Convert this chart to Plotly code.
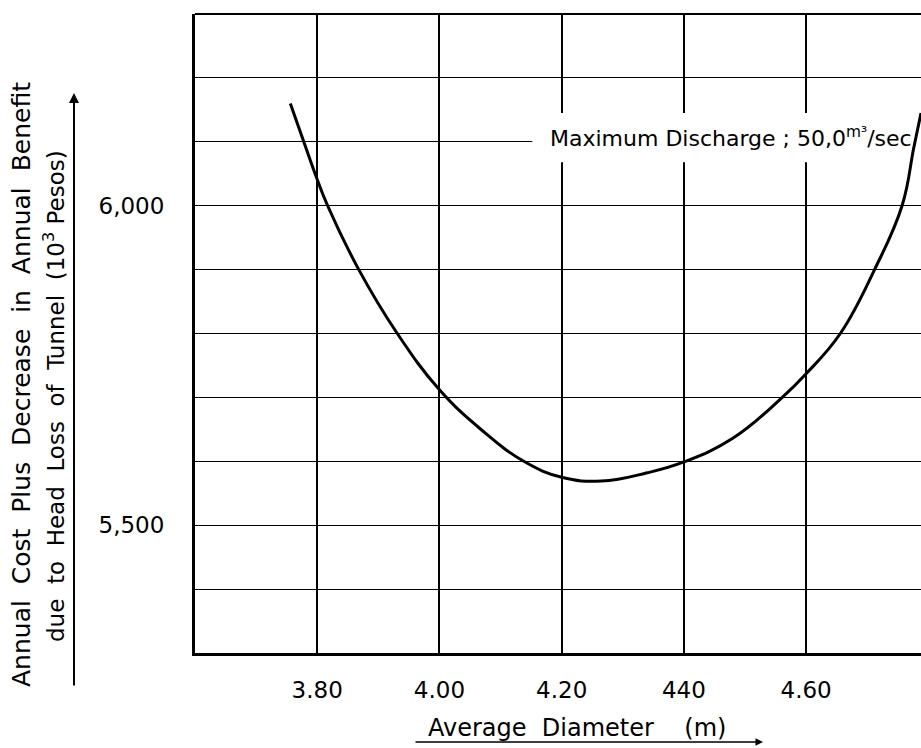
import plotly.graph_objects as go

# ---- data ----
diameter = [3.756, 3.778, 3.800, 3.817, 3.868, 3.931, 4.000, 4.069, 4.138,
            4.200, 4.265, 4.340, 4.400, 4.480, 4.561, 4.600, 4.656, 4.712,
            4.757, 4.776, 4.788]
cost = [6160, 6100, 6041, 6000, 5900, 5800, 5712, 5649, 5600,
        5575, 5569, 5582, 5599, 5636, 5700, 5737, 5800, 5900,
        6000, 6090, 6145]

x_ticks = [3.8, 4.0, 4.2, 4.4, 4.6]
x_tick_labels = ["3.80", "4.00", "4.20", "440", "4.60"]
y_ticks = [5400, 5500, 5600, 5700, 5800, 5900, 6000, 6100, 6200]
y_tick_labels = ["", "5,500", "", "", "", "", "6,000", "", ""]

FONT = "DejaVu Sans"
W, H = 921, 748
L, R, T, B = 195, 0, 14, 95
PW, PH = W - L - R, H - T - B

def px_x(p):
    return (p - L) / PW

def px_y(p):
    return (H - B - p) / PH

fig = go.Figure()
fig.add_trace(go.Scatter(
    x=diameter, y=cost, mode="lines",
    line=dict(color="black", width=3, shape="spline", smoothing=1.2),
    hoverinfo="skip", showlegend=False))

fig.update_layout(
    width=W, height=H,
    margin=dict(l=L, r=R, t=T, b=B),
    paper_bgcolor="white", plot_bgcolor="white",
    font=dict(family=FONT, size=22, color="black"),
    showlegend=False,
    xaxis=dict(range=[3.6, 4.788], tickvals=x_ticks, ticktext=x_tick_labels,
               showgrid=True, gridcolor="black", gridwidth=2,
               showline=True, linecolor="black", linewidth=3,
               ticks="", ticklabelstandoff=14, zeroline=False,
               tickfont=dict(family=FONT, size=23)),
    yaxis=dict(range=[5300, 6300], tickvals=y_ticks, ticktext=y_tick_labels,
               showgrid=True, gridcolor="black", gridwidth=1,
               showline=True, linecolor="black", linewidth=3,
               ticks="", ticklabelstandoff=23, zeroline=False,
               tickfont=dict(family=FONT, size=23)),
)

# top border
fig.add_shape(type="line", xref="paper", yref="paper", x0=0, x1=1, y0=1, y1=1,
              line=dict(color="black", width=2))
# white box behind the discharge label (covers gridlines, not the curve)
fig.add_shape(type="rect", xref="x", yref="y", x0=4.152, x1=4.788, y0=6068, y1=6145,
              fillcolor="white", line=dict(width=0), layer="between")
fig.add_annotation(x=4.178, y=6107, xref="x", yref="y", xanchor="left", yanchor="middle",
                   text="Maximum Discharge ; 50,0<sup>m³</sup>/sec",
                   showarrow=False, font=dict(family=FONT, size=22))

# y-axis title (two rotated lines)
fig.add_annotation(x=px_x(22), y=px_y(385), xref="paper", yref="paper",
                   xanchor="center", yanchor="middle",
                   text="Annual\u00a0\u00a0Cost\u00a0\u00a0Plus\u00a0\u00a0Decrease\u00a0\u00a0in\u00a0\u00a0Annual\u00a0\u00a0Benefit",
                   textangle=-90, showarrow=False, font=dict(family=FONT, size=25))
fig.add_annotation(x=px_x(54), y=px_y(396), xref="paper", yref="paper",
                   xanchor="center", yanchor="middle",
                   text="due\u00a0\u00a0to\u00a0\u00a0Head\u00a0\u00a0Loss\u00a0\u00a0of\u00a0\u00a0Tunnel\u00a0\u00a0(10<sup>3</sup>\u00a0Pesos)",
                   textangle=-90, showarrow=False, font=dict(family=FONT, size=23))
# y-axis arrow
fig.add_annotation(x=px_x(74), y=px_y(93), xref="paper", yref="paper",
                   ax=0, ay=594, axref="pixel", ayref="pixel", text="",
                   showarrow=True, arrowhead=2, arrowsize=1, arrowwidth=2, arrowcolor="black")

# x-axis title and arrow
fig.add_annotation(x=px_x(577), y=px_y(728), xref="paper", yref="paper",
                   xanchor="center", yanchor="middle",
                   text="Average\u00a0\u00a0Diameter\u00a0\u00a0\u00a0\u00a0(m)",
                   showarrow=False, font=dict(family=FONT, size=24))
fig.add_annotation(x=px_x(763), y=px_y(742), xref="paper", yref="paper",
                   ax=-349, ay=0, axref="pixel", ayref="pixel", text="",
                   showarrow=True, arrowhead=2, arrowsize=1, arrowwidth=1.5, arrowcolor="black")

fig.write_html("out.html",
               config={"displayModeBar": False},
               post_script="document.body.style.margin='0px';document.body.style.overflow='hidden';")
